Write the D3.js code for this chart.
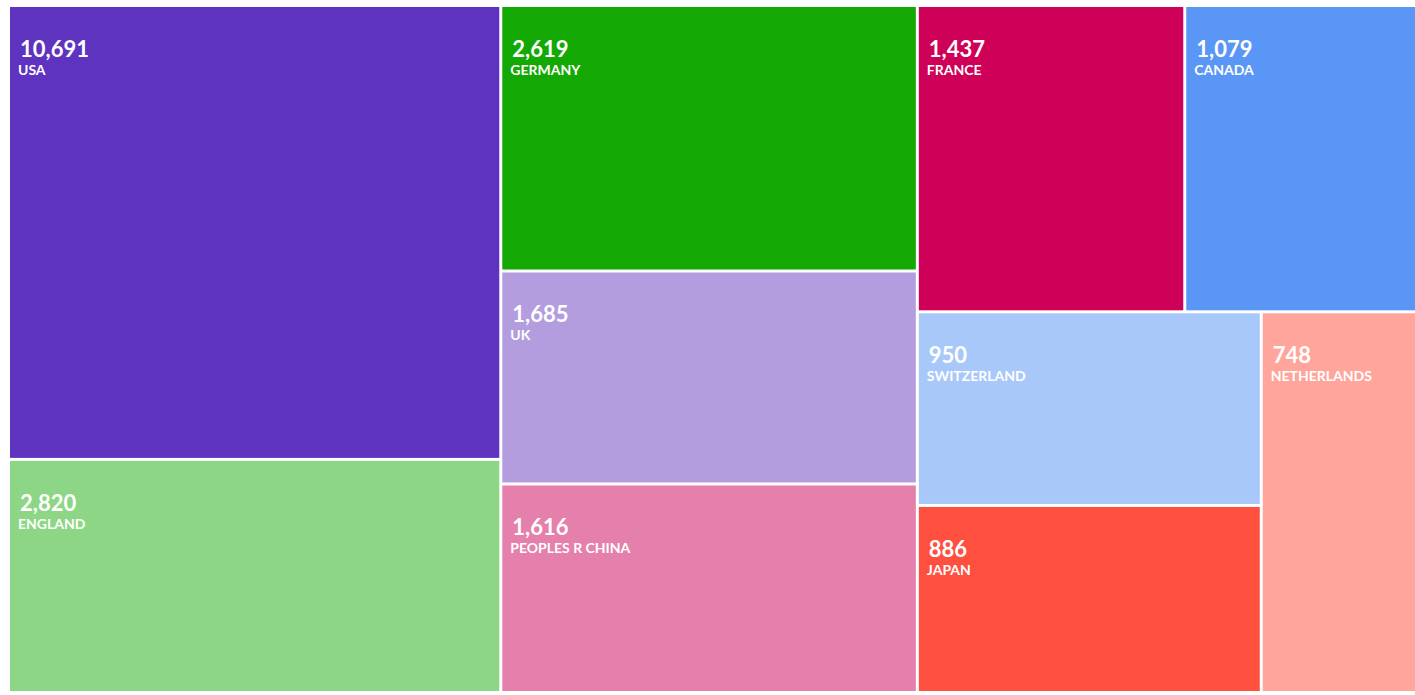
<!DOCTYPE html>
<html><head><meta charset="utf-8">
<script src="https://cdn.jsdelivr.net/npm/d3@7"></script>
<style>body{margin:0;background:#fff}</style>
</head><body><div id="chart"></div>
<script>
const countries = ["USA","ENGLAND","GERMANY","UK","PEOPLES R CHINA","FRANCE","CANADA","SWITZERLAND","JAPAN","NETHERLANDS"];
const counts = [10691,2820,2619,1685,1616,1437,1079,950,886,748];
const colors = ["#5e33bf","#8dd685","#14a805","#b39ddf","#e57fab","#cf0058","#5a96f5","#a8c8fa","#ff4f3f","#ffa59c"];

const width = 1415, height = 695;
const svg = d3.select("#chart").append("svg").attr("width", width).attr("height", height);

const root = d3.hierarchy({children: countries.map((c, i) => ({name: c, value: counts[i], color: colors[i]}))})
    .sum(d => d.value ? Math.sqrt(d.value) : 0)
    .sort((a, b) => b.data.value - a.data.value);

d3.treemap().size([1405, 684]).paddingInner(3).tile(d3.treemapSquarify)(root);

const g = svg.append("g").attr("transform", "translate(10,7)");
const cell = g.selectAll("g").data(root.leaves()).join("g")
    .attr("transform", d => `translate(${d.x0},${d.y0})`);

cell.append("clipPath").attr("id", (d, i) => "c" + i)
    .append("rect").attr("width", d => d.x1 - d.x0).attr("height", d => d.y1 - d.y0);
cell.append("rect").attr("width", d => d.x1 - d.x0).attr("height", d => d.y1 - d.y0)
    .attr("fill", d => d.data.color);

const lab = cell.append("g").attr("clip-path", (d, i) => `url(#c${i})`)
    .style("font-family", "Lato, sans-serif").attr("fill", "#fff").attr("font-weight", "bold");
lab.append("text").attr("x", 10).attr("y", 50).attr("font-size", 22)
    .text(d => d3.format(",")(d.data.value));
lab.append("text").attr("x", 8).attr("y", 68).attr("font-size", 14)
    .text(d => d.data.name);
</script></body></html>
